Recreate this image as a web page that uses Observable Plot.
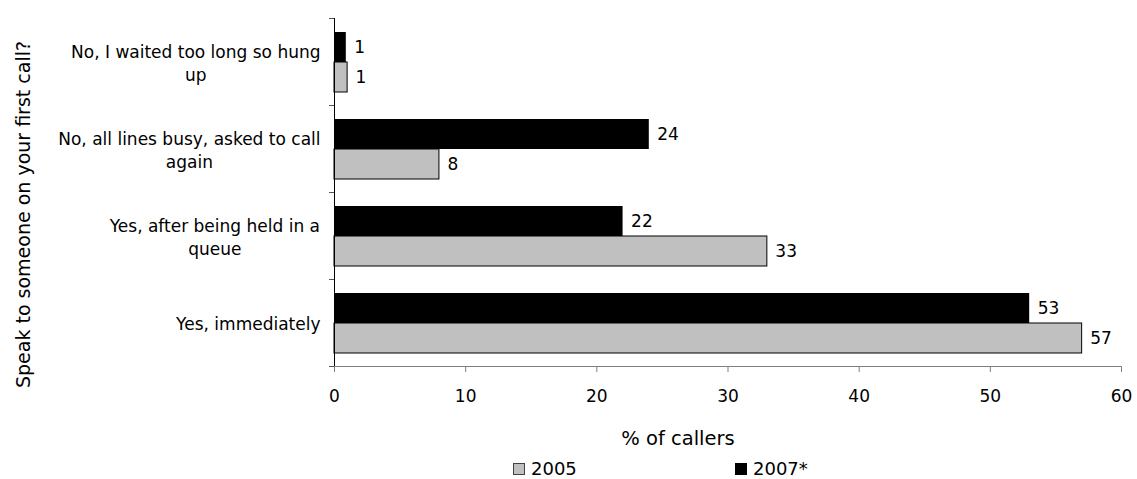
<!DOCTYPE html>
<html>
<head>
<meta charset="utf-8">
<script src="https://cdn.jsdelivr.net/npm/d3@7"></script>
<script src="https://cdn.jsdelivr.net/npm/@observablehq/plot@0.6"></script>
<style>
  html, body { margin: 0; padding: 0; background: #fff; }
  #wrap { width: 1137px; height: 479px; position: relative; font-family: "DejaVu Sans", sans-serif; overflow: hidden; }
  #legend { position: absolute; top: 459px; left: 0; height: 20px; width: 1137px; font-size: 18px; line-height: 20px; color: #000; }
  .item { position: absolute; top: 0; display: flex; align-items: center; height: 20px; }
  .sw { width: 12px; height: 12px; box-sizing: border-box; margin-right: 6px; border: 1px solid #444; }
</style>
</head>
<body>
<div id="wrap"><div id="chart"></div><div id="legend"></div></div>
<script>
// ---- data ----
const categories = [
  "No, I waited too long so hung\nup",
  "No, all lines busy, asked to call\nagain",
  "Yes, after being held in a\nqueue",
  "Yes, immediately"
];
const years = ["2005", "2007*"];
const values2005 = [1, 8, 33, 57];
const values2007 = [0.9, 24, 22, 53];
const xTicks = [0, 10, 20, 30, 40, 50, 60];
const yTitle = "Speak to someone on your first call?";
const xTitle = "% of callers";
const yearColors = ["#c0c0c0", "#000000"];

const data = categories.flatMap((c, i) => [
  {category: c, year: years[0], value: values2005[i]},
  {category: c, year: years[1], value: values2007[i]}
]);

const chart = Plot.plot({
  width: 1137,
  height: 455,
  marginLeft: 334,
  marginRight: 16,
  marginTop: 16,
  marginBottom: 88,
  style: {fontFamily: "DejaVu Sans, sans-serif", fontSize: "17px", color: "#000", background: "#fff"},
  x: {domain: [0, 60]},
  y: {domain: [years[1], years[0]], paddingInner: 0, paddingOuter: 0.42, axis: null},
  fy: {domain: categories, padding: 0},
  color: {domain: years, range: yearColors},
  marks: [
    Plot.barX(data.filter(d => d.year === years[1]), {x: "value", y: "year", fy: "category", fill: "year"}),
    Plot.barX(data.filter(d => d.year === years[0]), {x: "value", y: "year", fy: "category", fill: "year", stroke: "#000", strokeWidth: 1}),
    Plot.text(data, {x: "value", y: "year", fy: "category", text: d => String(Math.round(d.value)), textAnchor: "start", dx: 8, fontSize: 17, fill: "#000"}),
    Plot.ruleX([0], {stroke: "#000", strokeWidth: 1, insetBottom: -6}),
    Plot.axisX({ticks: xTicks, tickSize: 6, tickPadding: 17, stroke: "#808080", fontSize: 17, label: xTitle, labelAnchor: "center", labelOffset: 78, labelArrow: "none", tickFormat: d => String(d)}),
    Plot.axisFy({anchor: "left", tickSize: 0, tickPadding: 14, fontSize: 17, lineHeight: 1.35, label: yTitle, labelAnchor: "center", labelOffset: 318})
  ]
});
document.getElementById("chart").appendChild(chart);

const svg = d3.select(chart);
// explicit font sizes per text group
const sizes = {
  "fy-axis tick label": 17,
  "fy-axis label": 19,
  "x-axis tick label": 17,
  "x-axis label": 19.5
};
Object.entries(sizes).forEach(([k, s]) => {
  svg.selectAll(`g[aria-label="${k}"]`).attr("font-size", s).selectAll("text").attr("font-size", s);
});

// ---- axis lines and category boundary ticks via the plot's scales ----
const xs = chart.scale("x"), fys = chart.scale("fy");
const x0 = xs.apply(0), x1 = xs.apply(60);
const bounds = categories.map(c => fys.apply(c));
const bottom = fys.apply(categories[categories.length - 1]) + fys.bandwidth;
bounds.push(bottom);
const g = svg.append("g").attr("aria-label", "axis-lines");
g.append("line").attr("x1", x0 - 5).attr("x2", x1).attr("y1", bottom + 0.5).attr("y2", bottom + 0.5).attr("stroke", "#808080");
bounds.forEach(b => g.append("line").attr("x1", x0 - 5).attr("x2", x0).attr("y1", Math.round(b) + 0.5).attr("y2", Math.round(b) + 0.5).attr("stroke", "#555"));

// center multi-line category labels like the original
svg.selectAll('g[aria-label="fy-axis tick label"] text').each(function() {
  const t = d3.select(this);
  const tsp = t.selectAll("tspan");
  if (tsp.empty()) return;
  const w = this.getBBox().width;
  t.attr("text-anchor", "middle");
  tsp.attr("x", -w / 2);
});
// title offsets
svg.selectAll('g[aria-label="fy-axis label"]').each(function() {
  const tr = this.getAttribute("transform") || "";
  this.setAttribute("transform", tr + " translate(0,22)");
});
svg.selectAll('g[aria-label="x-axis label"]').each(function() {
  const tr = this.getAttribute("transform") || "";
  this.setAttribute("transform", tr + " translate(-50,0)");
});

// ---- legend ----
const legend = d3.select("#legend");
const legendX = [513, 735];
years.forEach((y, i) => {
  const it = legend.append("div").attr("class", "item").style("left", legendX[i] + "px");
  it.append("div").attr("class", "sw").style("background", yearColors[i]).style("border-color", i === 0 ? "#444" : "#000");
  it.append("span").text(y);
});
</script>
</body>
</html>
